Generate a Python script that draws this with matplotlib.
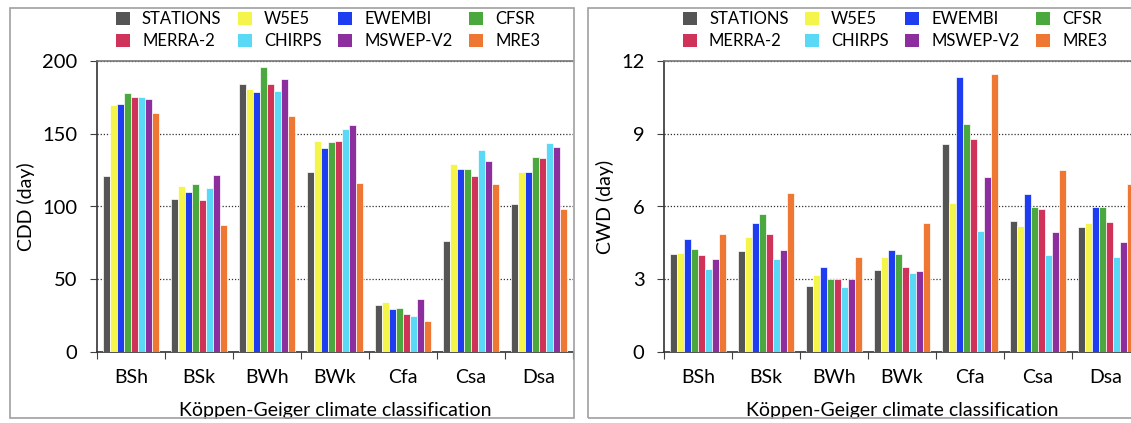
import matplotlib.pyplot as plt
from matplotlib.patches import Patch, Rectangle
import numpy as np

plt.rcParams['font.family'] = ['Lato', 'DejaVu Sans']

GREY = '#555555'
YELLOW = '#F4F44A'
BLUE = '#1F3DF0'
GREEN = '#4AA83E'
CRIMSON = '#D0335A'
CYAN = '#5AD9F6'
PURPLE = '#8C2E9E'
ORANGE = '#EE7733'

datasets = ['STATIONS', 'W5E5', 'EWEMBI', 'CFSR', 'MERRA-2', 'CHIRPS', 'MSWEP-V2', 'MRE3']
colors = [GREY, YELLOW, BLUE, GREEN, CRIMSON, CYAN, PURPLE, ORANGE]
climates = ['BSh', 'BSk', 'BWh', 'BWk', 'Cfa', 'Csa', 'Dsa']

# CDD (day), one list per dataset, in the order of climates
cdd_stations = [121, 105, 184, 124, 32.5, 76, 102]
cdd_w5e5 = [170, 114, 180.5, 145, 34.5, 129, 124]
cdd_ewembi = [170.5, 110, 178.5, 140.5, 29.5, 126, 124]
cdd_cfsr = [178, 115.5, 196, 144.5, 30, 126, 134]
cdd_merra2 = [175, 104.5, 184.5, 145, 26, 121, 133]
cdd_chirps = [175, 112.5, 179.5, 153, 25, 139, 143.5]
cdd_mswep = [174, 121.5, 187.5, 156, 36.5, 131.5, 141]
cdd_mre3 = [164, 87, 162, 116, 21, 115.5, 98.5]

# CWD (day)
cwd_stations = [4.05, 4.15, 2.72, 3.37, 8.57, 5.41, 5.14]
cwd_w5e5 = [4.1, 4.74, 3.17, 3.91, 6.13, 5.18, 5.33]
cwd_ewembi = [4.66, 5.32, 3.52, 4.2, 11.36, 6.52, 5.98]
cwd_cfsr = [4.24, 5.69, 3.02, 4.04, 9.4, 5.98, 5.98]
cwd_merra2 = [4.01, 4.88, 2.99, 3.52, 8.78, 5.91, 5.37]
cwd_chirps = [3.42, 3.82, 2.69, 3.26, 4.97, 4.01, 3.91]
cwd_mswep = [3.82, 4.19, 2.99, 3.32, 7.21, 4.95, 4.55]
cwd_mre3 = [4.88, 6.55, 3.91, 5.33, 11.46, 7.49, 6.92]

cdd = [cdd_stations, cdd_w5e5, cdd_ewembi, cdd_cfsr, cdd_merra2, cdd_chirps, cdd_mswep, cdd_mre3]
cwd = [cwd_stations, cwd_w5e5, cwd_ewembi, cwd_cfsr, cwd_merra2, cwd_chirps, cwd_mswep, cwd_mre3]

W, H = 1131, 423
fig = plt.figure(figsize=(W / 100, H / 100), dpi=100)

# panel frames (pixel coords from top left)
for x0, x1 in [(10, 574), (588, 1160)]:
    fig.patches.append(Rectangle((x0 / W, 1 - 418 / H), (x1 - x0) / W, 410 / H,
                                 transform=fig.transFigure, fill=False,
                                 edgecolor='#A0A0A0', linewidth=1.2, zorder=0))


def draw_panel(left_px, values, ymax, step, ylabel):
    ax = fig.add_axes([left_px / W, 1 - 352 / H, 476 / W, 291 / H])
    x = np.arange(len(climates))
    bw = 0.103
    for k, (vals, c) in enumerate(zip(values, colors)):
        ax.bar(x + (k - 3.5) * bw, vals, bw, color=c, edgecolor='white', linewidth=0.5, zorder=3)
    ax.set_xlim(-0.5, len(climates) - 0.5)
    ax.set_ylim(0, ymax)
    ax.set_yticks(np.arange(0, ymax + 1e-9, step))
    ax.set_xticks(np.arange(-0.5, len(climates)), labels=[])
    ax.set_xticks(x, labels=climates, minor=True)
    ax.tick_params(axis='x', which='major', length=5, color='#404040', direction='out')
    ax.tick_params(axis='x', which='minor', length=0, pad=12, labelsize=14)
    ax.tick_params(axis='y', length=5, color='#404040', pad=9, labelsize=14.5)
    ax.yaxis.grid(True, linestyle=(0, (1, 1.5)), color='#303030', linewidth=0.9, zorder=0)
    ax.set_axisbelow(True)
    for s in ['left', 'bottom']:
        ax.spines[s].set_color('#333333')
        ax.spines[s].set_linewidth(1.2)
    ax.spines['top'].set_color('#777777')
    ax.spines['top'].set_linewidth(1.2)
    ax.spines['right'].set_visible(False)
    ax.set_xlabel('Köppen-Geiger climate classification', fontsize=14, labelpad=12)
    ax.set_ylabel(ylabel, fontsize=14, labelpad=5)
    handles = [Patch(facecolor=c, edgecolor='none') for c in colors]
    order = [0, 4, 1, 5, 2, 6, 3, 7]
    ax.legend([handles[i] for i in order], [datasets[i] for i in order],
              loc='upper left', bbox_to_anchor=((left_px + 19) / W, 1 - 11 / H),
              bbox_transform=fig.transFigure, ncol=4, frameon=False, fontsize=12,
              borderpad=0, borderaxespad=0, handlelength=0.84, handleheight=0.84,
              handletextpad=0.72, columnspacing=1.0, labelspacing=0.37)
    return ax


draw_panel(97, cdd, 200, 50, 'CDD (day)')
draw_panel(664, cwd, 12, 3, 'CWD (day)')

fig.savefig('out.png', dpi=100)
